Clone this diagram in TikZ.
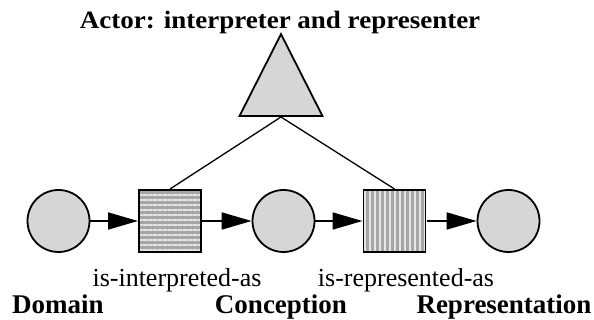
\documentclass[tikz,border=0pt]{standalone}
\usepackage{fontspec}
\setmainfont{Liberation Serif}
\usetikzlibrary{arrows.meta,shapes.geometric,patterns.meta}
\definecolor{shade}{HTML}{D6D6D6}
\tikzset{
  place/.style={circle,draw,line width=1.8pt,fill=shade,minimum size=62pt,inner sep=0pt},
  trans/.style={rectangle,draw,line width=1.8pt,minimum size=62pt,inner sep=0pt,
    preaction={fill=gray!70}},
  hstripes/.style={trans,pattern={Lines[angle=0,distance=5pt,line width=2pt]},pattern color=gray!20},
  vstripes/.style={trans,pattern={Lines[angle=90,distance=5pt,line width=2pt]},pattern color=gray!20},
  flow/.style={line width=1.8pt,-{Triangle[length=30pt,width=17pt]}},
  link/.style={line width=1.3pt},
  lbl/.style={font=\fontsize{26}{30}\selectfont,inner sep=0pt,anchor=base},
  blbl/.style={lbl,font=\fontsize{27}{30}\selectfont\bfseries}
}
\begin{document}
\begin{tikzpicture}[x=1pt,y=1pt]
        \useasboundingbox (0, 0) rectangle (594, 320);
        \node[place] (domain) at (58.5, 99) {};
        \node[hstripes] (interp) at (170, 99) {};
        \node[place] (concept) at (283.5, 99) {};
        \node[vstripes] (repr) at (394.5, 99) {};
        \node[place] (rep) at (508.5, 99) {};
        \node[isosceles triangle,isosceles triangle apex angle=54,shape border rotate=90,
              isosceles triangle stretches,minimum width=83pt,minimum height=82pt,
              inner sep=0pt,draw,line width=1.8pt,fill=shade,anchor=lower side] (actor) at (281, 203) {};
        \draw[flow] (domain) -- (interp);
        \draw[flow] (interp) -- (concept);
        \draw[flow] (concept) -- (repr);
        \draw[flow] (repr) -- (rep);
        \draw[link] (actor.lower side) -- (interp.north);
        \draw[link] (actor.lower side) -- (repr.north);
        \node[blbl,font=\fontsize{25}{28}\selectfont\bfseries,xscale=1.08] (actorlbl) at (280, 291) {Actor: interpreter and representer};
        \node[lbl] (interplbl) at (177, 33) {is-interpreted-as};
        \node[lbl] (reprlbl) at (406, 33) {is-represented-as};
        \node[blbl] (domainlbl) at (58, 6) {Domain};
        \node[blbl] (conceptlbl) at (281, 6) {Conception};
        \node[blbl] (replbl) at (504, 6) {Representation};
\end{tikzpicture}
\end{document}
